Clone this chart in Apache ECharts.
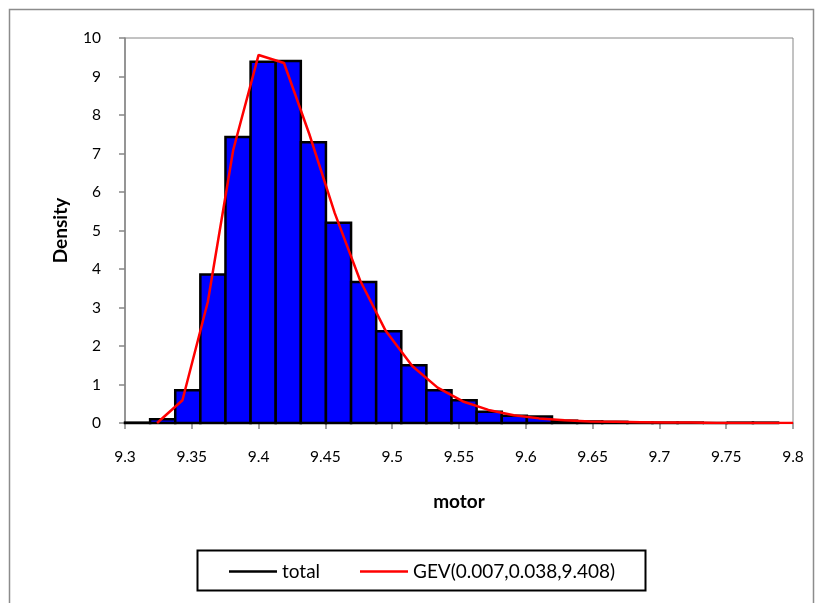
<!DOCTYPE html>
<html>
<head>
<meta charset="utf-8">
<script src="https://cdn.jsdelivr.net/npm/echarts@6/dist/echarts.min.js"></script>
<style>
html,body{margin:0;padding:0;background:#fff;}
#chart{width:822px;height:603px;}
</style>
</head>
<body>
<div id="chart"></div>
<script>
// Histogram bins (lower edges) and densities
const binWidth = 0.0188;
const binStart = [9.3000, 9.3188, 9.3376, 9.3564, 9.3752, 9.3940, 9.4128, 9.4316, 9.4504, 9.4692,
                  9.4880, 9.5068, 9.5256, 9.5444, 9.5632, 9.5820, 9.6008, 9.6196, 9.6384, 9.6572,
                  9.6760, 9.6948, 9.7136, 9.7324, 9.7512, 9.7700];
const binDensity = [0.01, 0.10, 0.85, 3.86, 7.43, 9.38, 9.40, 7.29, 5.20, 3.66,
                    2.38, 1.50, 0.85, 0.59, 0.29, 0.19, 0.17, 0.06, 0.04, 0.03,
                    0.01, 0.01, 0.01, 0.00, 0.01, 0.01];

// Fitted GEV curve points
const gevX = [9.324, 9.343, 9.362, 9.381, 9.400, 9.419, 9.438, 9.457, 9.476, 9.495,
              9.515, 9.534, 9.553, 9.572, 9.591, 9.610, 9.629, 9.648, 9.667, 9.686,
              9.705, 9.724, 9.743, 9.762, 9.781, 9.800];
const gevY = [0.00, 0.59, 3.15, 7.09, 9.56, 9.35, 7.50, 5.45, 3.70, 2.40,
              1.48, 0.92, 0.56, 0.34, 0.20, 0.12, 0.07, 0.04, 0.03, 0.02,
              0.01, 0.01, 0.00, 0.00, 0.00, 0.00];

const xTicks = [9.3, 9.35, 9.4, 9.45, 9.5, 9.55, 9.6, 9.65, 9.7, 9.75, 9.8];
const yTicks = [0, 1, 2, 3, 4, 5, 6, 7, 8, 9, 10];

const seriesNames = ['total', 'GEV(0.007,0.038,9.408)'];

const FONT = 'Lato, "Open Sans", sans-serif';
const AXIS_GRAY = '#868686';

const histData = binStart.map((s, i) => [s, s + binWidth, binDensity[i]]);
const gevData = gevX.map((x, i) => [x, gevY[i]]);

const chart = echarts.init(document.getElementById('chart'), null, {renderer: 'canvas'});
chart.setOption({
  backgroundColor: '#ffffff',
  animation: false,
  graphic: [{
    type: 'rect',
    shape: {x: 9.5, y: 9.5, width: 804, height: 620},
    style: {fill: 'none', stroke: '#8c8c8c', lineWidth: 1.5},
    silent: true, z: -10
  }, {
    type: 'rect',
    shape: {x: 197.5, y: 550.5, width: 448, height: 40},
    style: {fill: 'none', stroke: '#000', lineWidth: 2},
    silent: true, z: 10
  }],
  grid: {
    left: 125, right: 29, top: 38, bottom: 180,
    show: true, borderColor: AXIS_GRAY, borderWidth: 1, backgroundColor: 'transparent'
  },
  legend: [{
    left: 224, top: 557,
    itemWidth: 48, itemHeight: 2.5, icon: 'rect',
    textStyle: {fontFamily: FONT, fontSize: 19, color: '#000'},
    data: [{name: seriesNames[0], itemStyle: {color: '#000', borderWidth: 0}}]
  }, {
    left: 355, top: 557,
    itemWidth: 48, itemHeight: 2.5, icon: 'rect',
    textStyle: {fontFamily: FONT, fontSize: 19, color: '#000'},
    data: [{name: seriesNames[1], itemStyle: {color: '#ff0000', borderWidth: 0}}]
  }],
  xAxis: {
    type: 'value', min: xTicks[0], max: xTicks[xTicks.length - 1], interval: 0.05,
    name: 'motor', nameLocation: 'middle', nameGap: 69,
    nameTextStyle: {fontFamily: FONT, fontSize: 19, fontWeight: 'bold', color: '#000'},
    axisLine: {show: true, onZero: false, lineStyle: {color: AXIS_GRAY, width: 1.5}},
    axisTick: {show: true, length: 6, lineStyle: {color: AXIS_GRAY, width: 1.5}},
    axisLabel: {fontFamily: FONT, fontSize: 15.5, color: '#000', margin: 26,
      formatter: v => String(parseFloat(v.toFixed(2)))},
    splitLine: {show: false}
  },
  yAxis: {
    type: 'value', min: yTicks[0], max: yTicks[yTicks.length - 1], interval: 1,
    name: 'Density', nameLocation: 'middle', nameGap: 55,
    nameTextStyle: {fontFamily: FONT, fontSize: 19, fontWeight: 'bold', color: '#000'},
    axisLine: {show: true, lineStyle: {color: AXIS_GRAY, width: 1.5}},
    axisTick: {show: true, length: 6, lineStyle: {color: AXIS_GRAY, width: 1.5}},
    axisLabel: {fontFamily: FONT, fontSize: 15.5, color: '#000', margin: 24},
    splitLine: {show: false}
  },
  series: [{
    name: seriesNames[0],
    type: 'custom',
    data: histData,
    encode: {x: [0, 1], y: 2},
    itemStyle: {color: '#0000ff'},
    z: 2,
    renderItem: function (params, api) {
      const p0 = api.coord([api.value(0), 0]);
      const p1 = api.coord([api.value(1), api.value(2)]);
      return {
        type: 'rect',
        shape: {x: p0[0], y: p1[1], width: p1[0] - p0[0], height: p0[1] - p1[1]},
        style: {fill: '#0000ff', stroke: '#000000', lineWidth: 2.5}
      };
    }
  }, {
    name: seriesNames[1],
    type: 'line',
    data: gevData,
    showSymbol: false,
    symbol: 'none',
    lineStyle: {color: '#ff0000', width: 2.5},
    itemStyle: {color: '#ff0000'},
    z: 5
  }]
});
</script>
</body>
</html>
